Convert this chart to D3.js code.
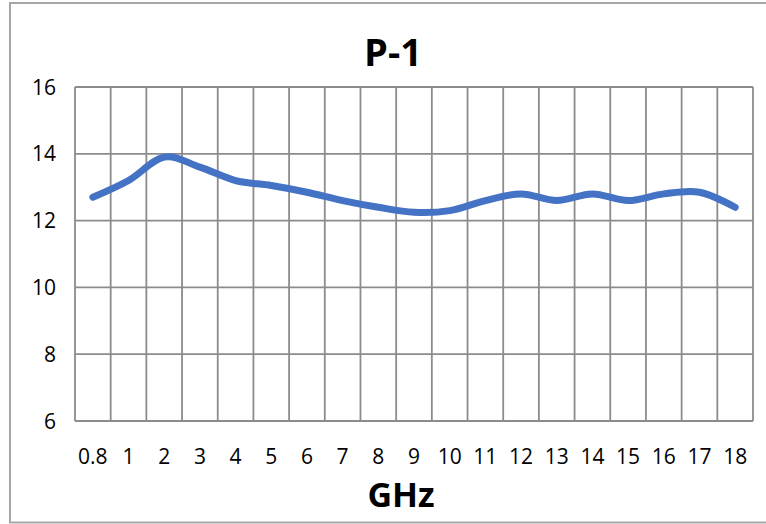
<!DOCTYPE html>
<html>
<head>
<meta charset="utf-8">
<script src="https://cdn.jsdelivr.net/npm/d3@7"></script>
<style>
  html, body { margin: 0; padding: 0; background: #fff; }
  svg { display: block; font-family: "Open Sans", sans-serif; }
</style>
</head>
<body>
<svg id="chart" width="766" height="524"></svg>
<script>
// data
const categories = ['0.8', '1', '2', '3', '4', '5', '6', '7', '8', '9', '10',
  '11', '12', '13', '14', '15', '16', '17', '18'];
const values = [12.7, 13.2, 13.9, 13.6, 13.2, 13.05, 12.85, 12.6, 12.4, 12.25, 12.3,
  12.6, 12.8, 12.6, 12.8, 12.6, 12.8, 12.85, 12.4];
const yTicks = [6, 8, 10, 12, 14, 16];

const svg = d3.select('#chart');

const plot = { left: 75, right: 753, top: 87, bottom: 421 };

// outer chart frame (right side runs off the page)
svg.append('rect')
  .attr('x', 10).attr('y', 3)
  .attr('width', 800).attr('height', 519.5)
  .attr('fill', 'none')
  .attr('stroke', '#a6a6a6')
  .attr('stroke-width', 2);

const x = d3.scaleBand()
  .domain(categories)
  .range([plot.left, plot.right])
  .padding(0);

const y = d3.scaleLinear()
  .domain([6, 16])
  .range([plot.bottom, plot.top]);

const grid = svg.append('g').attr('stroke', '#8c8c8c').attr('stroke-width', 1.8);

// horizontal gridlines
grid.selectAll('line.h')
  .data(yTicks)
  .enter().append('line')
  .attr('x1', plot.left).attr('x2', plot.right)
  .attr('y1', d => y(d)).attr('y2', d => y(d));

// vertical gridlines at category boundaries
const bounds = categories.map(c => x(c)).concat([x(categories[categories.length - 1]) + x.bandwidth()]);
grid.selectAll('line.v')
  .data(bounds)
  .enter().append('line')
  .attr('x1', d => d).attr('x2', d => d)
  .attr('y1', plot.top).attr('y2', plot.bottom);

// y tick labels
svg.append('g').selectAll('text')
  .data(yTicks)
  .enter().append('text')
  .attr('x', 56)
  .attr('y', d => y(d))
  .attr('dy', '0.36em')
  .attr('text-anchor', 'end')
  .attr('font-size', 21)
  .attr('fill', '#000')
  .text(d => d);

// x tick labels
svg.append('g').selectAll('text')
  .data(categories)
  .enter().append('text')
  .attr('x', d => x(d) + x.bandwidth() / 2)
  .attr('y', 464)
  .attr('text-anchor', 'middle')
  .attr('font-size', 21)
  .attr('fill', '#000')
  .text(d => d);

// the series line
const line = d3.line()
  .x((d, i) => x(categories[i]) + x.bandwidth() / 2)
  .y(d => y(d))
  .curve(d3.curveCatmullRom.alpha(0));

svg.append('path')
  .datum(values)
  .attr('d', line)
  .attr('fill', 'none')
  .attr('stroke', '#4472c4')
  .attr('stroke-width', 7)
  .attr('stroke-linecap', 'round')
  .attr('stroke-linejoin', 'round');

// titles
svg.append('text')
  .attr('x', 393).attr('y', 66)
  .attr('text-anchor', 'middle')
  .attr('font-size', 38)
  .attr('font-weight', 'bold')
  .attr('fill', '#000')
  .text('P-1');

svg.append('text')
  .attr('x', 401).attr('y', 507)
  .attr('text-anchor', 'middle')
  .attr('font-size', 34)
  .attr('font-weight', 'bold')
  .attr('fill', '#000')
  .text('GHz');
</script>
</body>
</html>
